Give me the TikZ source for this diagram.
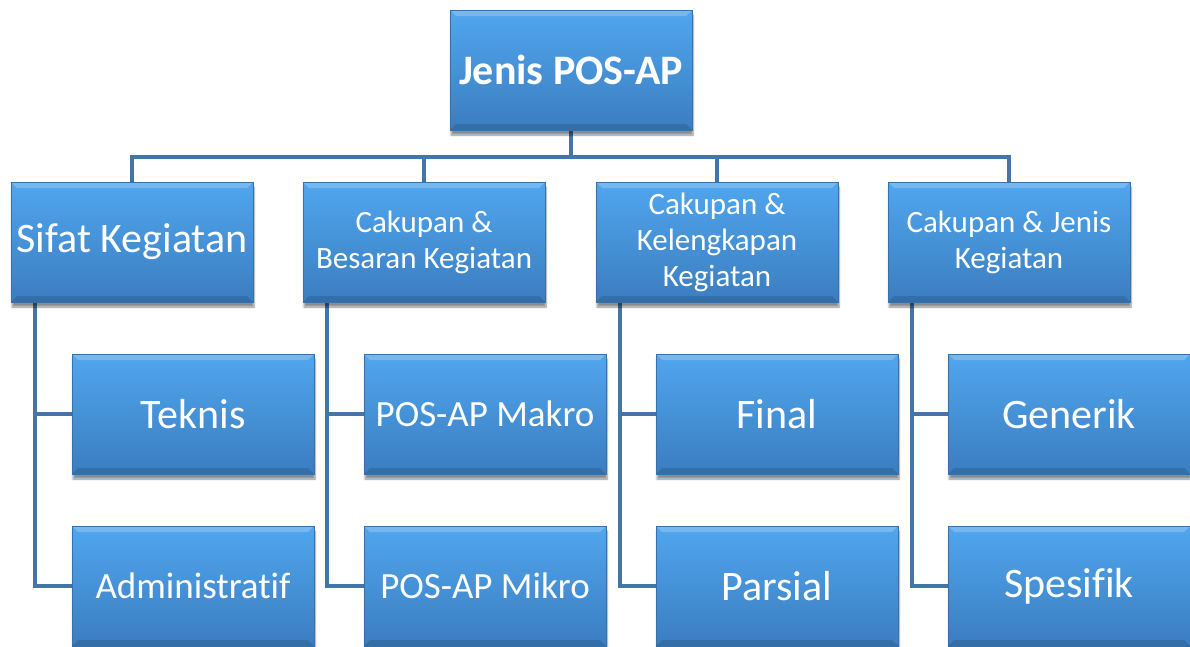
\documentclass[tikz,border=0pt]{standalone}
\usepackage{fontspec}
\setmainfont{Carlito}[Ligatures=CommonOff]
\usetikzlibrary{shadows.blur,backgrounds}

\definecolor{kotakatas}{HTML}{50A6EF}
\definecolor{kotakbawah}{HTML}{3B7DBF}
\definecolor{tepi}{HTML}{3771AA}
\definecolor{garis}{HTML}{4375A9}

\tikzset{
  kotak/.style={rectangle, minimum width=242pt, minimum height=120pt, inner sep=0pt,
    draw=tepi, line width=0.8pt, top color=kotakatas, bottom color=kotakbawah,
    text=white, align=center,
    blur shadow={shadow xshift=1pt, shadow yshift=-5pt, shadow opacity=45, shadow blur steps=6},
    path picture={
      \fill[white, opacity=0.22] (path picture bounding box.north west) -- (path picture bounding box.north east)
        -- ([xshift=-6pt, yshift=-6pt]path picture bounding box.north east) -- ([xshift=6pt, yshift=-6pt]path picture bounding box.north west) -- cycle;
      \fill[black, opacity=0.12] (path picture bounding box.south west) -- (path picture bounding box.south east)
        -- ([xshift=-6pt, yshift=6pt]path picture bounding box.south east) -- ([xshift=6pt, yshift=6pt]path picture bounding box.south west) -- cycle;
    }},
  judul/.style={font=\fontsize{42}{46}\selectfont\bfseries},
  besar/.style={font=\fontsize{42}{45}\selectfont},
  sedang/.style={font=\fontsize{37}{40}\selectfont},
  kecil/.style={font=\fontsize{31}{36}\selectfont},
  garishub/.style={draw=garis, line width=4pt}
}

\begin{document}
\begin{tikzpicture}[x=1pt, y=-1pt]
    \useasboundingbox (0,0) rectangle (1190,646);

    % Kotak utama
    \node[kotak, judul] (jenis) at (571,70) {Jenis POS-AP};

    % Kategori tingkat pertama
    \node[kotak, besar] (sifat) at (132,242) {Sifat Kegiatan};
    \node[kotak, kecil] (besaran) at (424,242) {Cakupan \&\\Besaran Kegiatan};
    \node[kotak, kecil] (lengkap) at (717,242) {Cakupan \&\\Kelengkapan\\Kegiatan};
    \node[kotak, kecil] (jenkeg) at (1009,242) {Cakupan \& Jenis\\Kegiatan};

    % Rincian tiap kategori
    \node[kotak, besar] (teknis) at (193,414) {Teknis};
    \node[kotak, sedang] (admin) at (193,586) {Administratif};
    \node[kotak, sedang] (makro) at (485,414) {POS-AP Makro};
    \node[kotak, sedang] (mikro) at (485,586) {POS-AP Mikro};
    \node[kotak, besar] (final) at (777,414) {Final};
    \node[kotak, besar] (parsial) at (777,586) {Parsial};
    \node[kotak, besar] (generik) at (1069,414) {Generik};
    \node[kotak, besar] (spesifik) at (1069,586) {Spesifik};

    % Garis penghubung di belakang kotak
    \begin{scope}[on background layer]
        \draw[garishub] (jenis.south) -- ++(0,27) -| (sifat.north);
        \draw[garishub] (jenis.south) -- ++(0,27) -| (besaran.north);
        \draw[garishub] (jenis.south) -- ++(0,27) -| (lengkap.north);
        \draw[garishub] (jenis.south) -- ++(0,27) -| (jenkeg.north);

        \draw[garishub] ([xshift=24pt]sifat.south west) |- (teknis.west);
        \draw[garishub] ([xshift=24pt]sifat.south west) |- (admin.west);
        \draw[garishub] ([xshift=24pt]besaran.south west) |- (makro.west);
        \draw[garishub] ([xshift=24pt]besaran.south west) |- (mikro.west);
        \draw[garishub] ([xshift=24pt]lengkap.south west) |- (final.west);
        \draw[garishub] ([xshift=24pt]lengkap.south west) |- (parsial.west);
        \draw[garishub] ([xshift=24pt]jenkeg.south west) |- (generik.west);
        \draw[garishub] ([xshift=24pt]jenkeg.south west) |- (spesifik.west);
    \end{scope}
\end{tikzpicture}
\end{document}
